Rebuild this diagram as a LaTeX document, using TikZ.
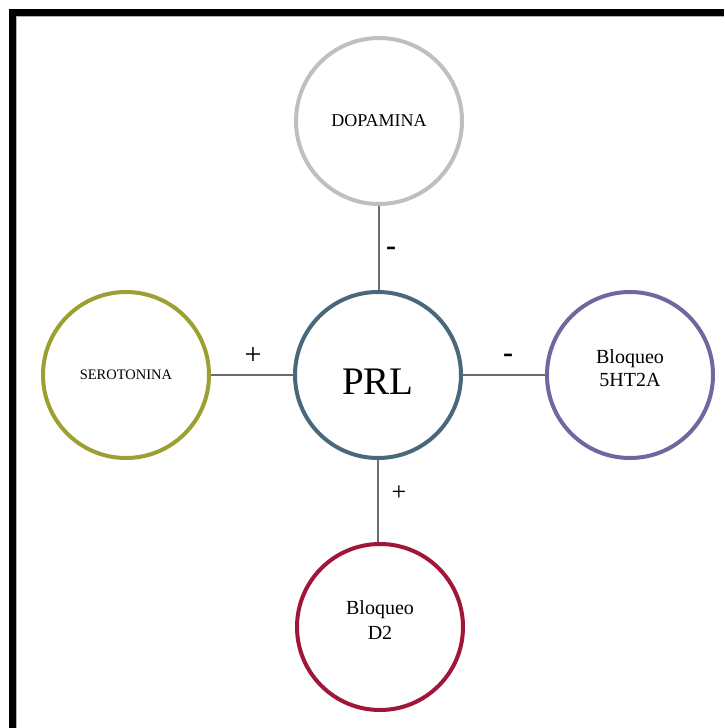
\documentclass[tikz,border=0pt]{standalone}
\usepackage{fontspec}
\setmainfont{Liberation Serif}
\usepackage{tikz}
\usetikzlibrary{positioning}
\newcommand{\rsize}{166pt}
\newcommand{\rline}{4pt}
\newcommand{\fsz}[1]{\fontsize{#1}{#1}\selectfont}
\definecolor{dopgray}{RGB}{191,191,191}
\definecolor{seroolive}{RGB}{156,160,48}
\definecolor{prlblue}{RGB}{74,104,124}
\definecolor{htpurple}{RGB}{108,104,160}
\definecolor{dcrimson}{RGB}{160,22,56}
\definecolor{linkgray}{RGB}{100,108,116}

\begin{document}
\begin{tikzpicture}[x=1pt,y=-1pt]
        \tikzset{Ring/.style = {circle, draw, line width=\rline, minimum size=\rsize, inner sep=0pt, align=center}}
        \tikzset{Link/.style = {draw=linkgray, line width=1.3pt}}
        \tikzset{Sign/.style = {inner sep=0pt}}
        \useasboundingbox (0,0) rectangle (724,728);
        \fill[white] (0,0) rectangle (724,728);
        \draw[line width=7pt] (12.5,728) -- (12.5,12.5) -- (724,12.5);
        \draw[gray!60, line width=1pt] (16.5,728) -- (16.5,16.5) -- (724,16.5);

        \node[Ring, draw=prlblue, font=\fsz{39}, text height=38pt, text depth=0pt] (prl) at (378,375) {PRL};
        \node[Ring, draw=dopgray, font=\fsz{18}] (dop) at (379,121) {DOPAMINA};
        \node[Ring, draw=seroolive, font=\fsz{14.5}] (sero) at (126,375) {SEROTONINA};
        \node[Ring, draw=htpurple, font=\fsz{20}, text depth=13pt] (bqht) at (630,375) {Bloqueo\\[3pt]5HT2A};
        \node[Ring, draw=dcrimson, font=\fsz{20}, text depth=13pt] (bqd) at (380,627) {Bloqueo\\[5pt]D2};

        \draw[Link] (dop) -- (dop |- prl.north);
        \draw[Link] (sero) -- (prl);
        \draw[Link] (prl) -- (bqht);
        \draw[Link] (prl) -- (prl |- bqd.north);

        \node[Sign, font=\fsz{30}\bfseries] (mtop) at (391,251) {-};
        \node[Sign, font=\fsz{30}] (pleft) at (253,356) {+};
        \node[Sign, font=\fsz{30}\bfseries] (mright) at (508,358) {-};
        \node[Sign, font=\fsz{26}] (pbot) at (399,493) {+};
    \end{tikzpicture}
\end{document}
